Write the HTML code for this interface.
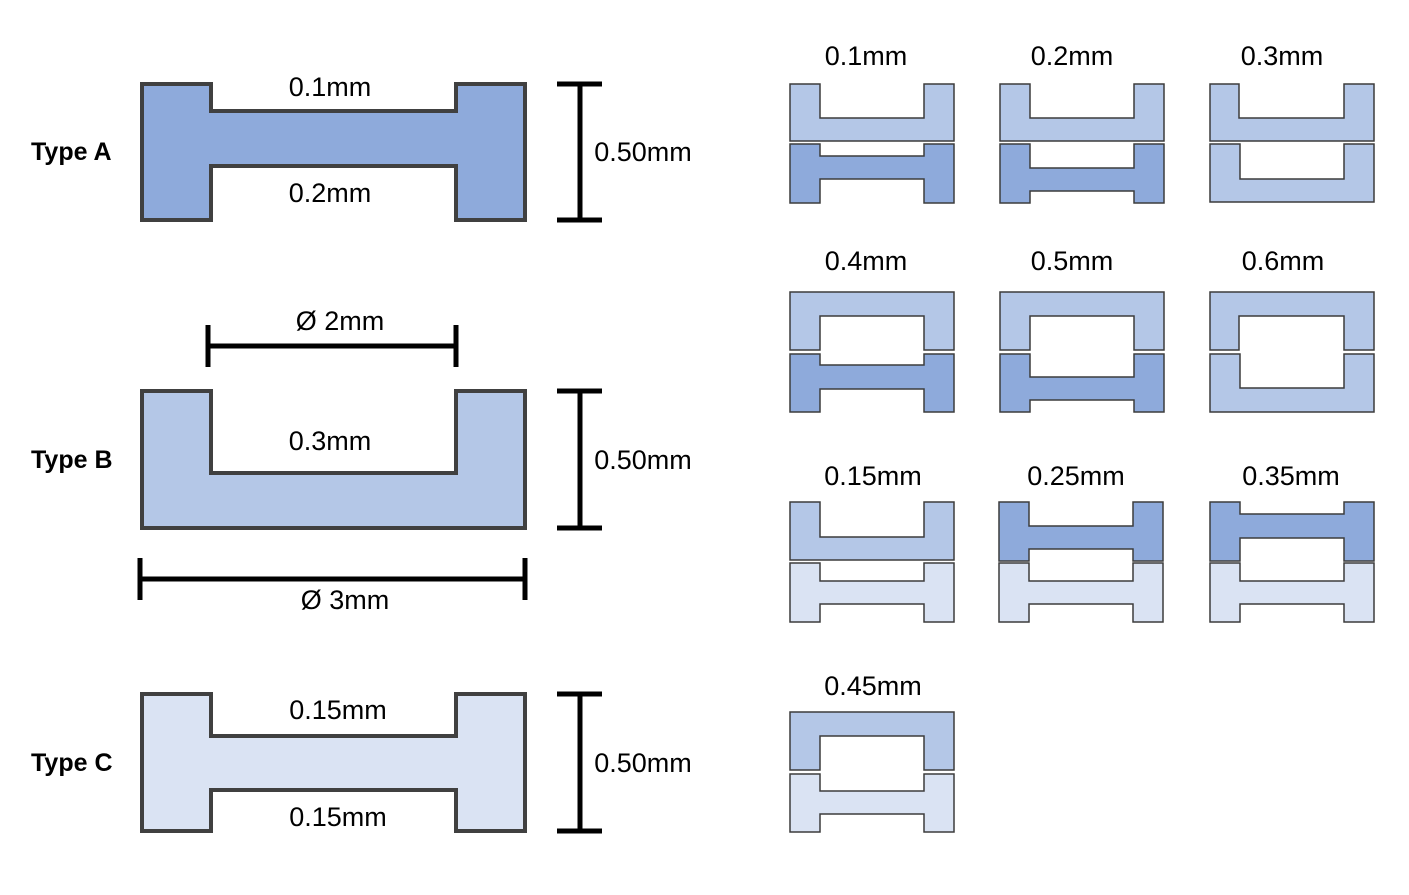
<!DOCTYPE html>
<html><head><meta charset="utf-8"><style>
html,body{margin:0;padding:0;background:#fff;}
svg{display:block;}
text{font-family:"Liberation Sans",sans-serif;fill:#000;}
.l{font-size:27px;text-anchor:middle;dominant-baseline:central;}
.t{font-size:25px;font-weight:bold;dominant-baseline:central;}
.big{stroke:#404040;stroke-width:4;stroke-linejoin:miter;}
.sm{stroke:#3c3c3c;stroke-width:1.5;}
.d{fill:#8eaadb}.m{fill:#b4c7e7}.li{fill:#dae3f3}
.bar{stroke:#000;stroke-width:5;fill:none;}
</style></head><body>
<svg width="1409" height="895" viewBox="0 0 1409 895" xmlns="http://www.w3.org/2000/svg">
<polygon class="big d" points="142,84 211,84 211,111 456,111 456,84 525,84 525,220 456,220 456,166 211,166 211,220 142,220"/>
<polygon class="big m" points="142,391 211,391 211,473 456,473 456,391 525,391 525,528 142,528"/>
<polygon class="big li" points="142,694 211,694 211,736 456,736 456,694 525,694 525,831 456,831 456,790 211,790 211,831 142,831"/>

<text class="t" x="31" y="152">Type A</text>
<text class="t" x="31" y="460">Type B</text>
<text class="t" x="31" y="763">Type C</text>

<text class="l" x="330" y="87">0.1mm</text>
<text class="l" x="330" y="193">0.2mm</text>
<text class="l" x="330" y="441">0.3mm</text>
<text class="l" x="338" y="710">0.15mm</text>
<text class="l" x="338" y="817">0.15mm</text>
<text class="l" x="340" y="321">Ø 2mm</text>
<text class="l" x="345" y="600">Ø 3mm</text>

<path class="bar" d="M580,84V220M557,84H602M557,220H602"/>
<path class="bar" d="M580,391V528M557,391H602M557,528H602"/>
<path class="bar" d="M580,694V831M557,694H602M557,831H602"/>
<text class="l" x="643" y="152">0.50mm</text>
<text class="l" x="643" y="460">0.50mm</text>
<text class="l" x="643" y="763">0.50mm</text>
<path class="bar" d="M208,346H456M208,325V367M456,325V367"/>
<path class="bar" d="M140,579H525M140,558V600M525,558V600"/>

<text class="l" x="866" y="56">0.1mm</text>
<text class="l" x="1072" y="56">0.2mm</text>
<text class="l" x="1282" y="56">0.3mm</text>
<text class="l" x="866" y="261">0.4mm</text>
<text class="l" x="1072" y="261">0.5mm</text>
<text class="l" x="1283" y="261">0.6mm</text>
<text class="l" x="873" y="476">0.15mm</text>
<text class="l" x="1076" y="476">0.25mm</text>
<text class="l" x="1291" y="476">0.35mm</text>
<text class="l" x="873" y="686">0.45mm</text>

<polygon class="sm m" points="790,84 820,84 820,118 924,118 924,84 954,84 954,141 790,141"/>
<polygon class="sm d" points="790,144 820,144 820,156 924,156 924,144 954,144 954,203 924,203 924,179 820,179 820,203 790,203"/>
<polygon class="sm m" points="1000,84 1030,84 1030,118 1134,118 1134,84 1164,84 1164,141 1000,141"/>
<polygon class="sm d" points="1000,144 1030,144 1030,168 1134,168 1134,144 1164,144 1164,203 1134,203 1134,191 1030,191 1030,203 1000,203"/>
<polygon class="sm m" points="1210,84 1239,84 1239,118 1344,118 1344,84 1374,84 1374,141 1210,141"/>
<polygon class="sm m" points="1210,144 1240,144 1240,179 1344,179 1344,144 1374,144 1374,202 1210,202"/>

<polygon class="sm m" points="790,292 954,292 954,350 924,350 924,316 820,316 820,350 790,350"/>
<polygon class="sm d" points="790,354 820,354 820,365 924,365 924,354 954,354 954,412 924,412 924,389 820,389 820,412 790,412"/>
<polygon class="sm m" points="1000,292 1164,292 1164,350 1134,350 1134,316 1030,316 1030,350 1000,350"/>
<polygon class="sm d" points="1000,354 1030,354 1030,377 1134,377 1134,354 1164,354 1164,412 1134,412 1134,400 1030,400 1030,412 1000,412"/>
<polygon class="sm m" points="1210,292 1374,292 1374,350 1344,350 1344,316 1239,316 1239,350 1210,350"/>
<polygon class="sm m" points="1210,354 1240,354 1240,388 1344,388 1344,354 1374,354 1374,412 1210,412"/>

<polygon class="sm m" points="790,502 820,502 820,537 924,537 924,502 954,502 954,560 790,560"/>
<polygon class="sm li" points="790,563 820,563 820,581 924,581 924,563 954,563 954,622 924,622 924,604 820,604 820,622 790,622"/>
<polygon class="sm d" points="999,502 1029,502 1029,526 1133,526 1133,502 1163,502 1163,561 1133,561 1133,549 1029,549 1029,561 999,561"/>
<polygon class="sm li" points="999,563 1029,563 1029,581 1133,581 1133,563 1163,563 1163,622 1133,622 1133,604 1029,604 1029,622 999,622"/>
<polygon class="sm d" points="1210,502 1240,502 1240,514 1344,514 1344,502 1374,502 1374,561 1344,561 1344,538 1240,538 1240,561 1210,561"/>
<polygon class="sm li" points="1210,563 1240,563 1240,581 1344,581 1344,563 1374,563 1374,622 1344,622 1344,604 1240,604 1240,622 1210,622"/>

<polygon class="sm m" points="790,712 954,712 954,770 924,770 924,736 820,736 820,770 790,770"/>
<polygon class="sm li" points="790,774 820,774 820,791 924,791 924,774 954,774 954,832 924,832 924,814 820,814 820,832 790,832"/>
</svg>
</body></html>
